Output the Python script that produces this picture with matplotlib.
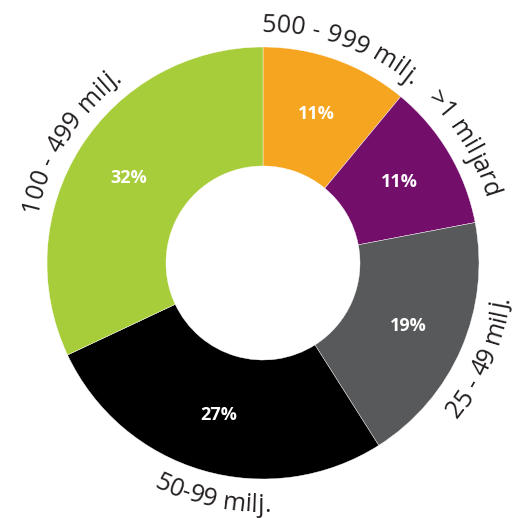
import numpy as np
import matplotlib
matplotlib.use("Agg")
import matplotlib.pyplot as plt
from matplotlib.font_manager import FontProperties

# Share of companies per revenue bracket, clockwise from 12 o'clock
labels = ["500 - 999 milj.", ">1 miljard", "25 - 49 milj.", "50-99 milj.", "100 - 499 milj."]
shares = [11, 11, 19, 27, 32]
colors = ["#F6A520", "#740E6B", "#58595B", "#000000", "#A8CD3A"]
label_shift = [0, 0, 0, 4, 0]  # degrees, nudges a label along the ring

W, H = 519, 518
cx, cy = 263, H - 263
r_out, r_in = 216, 97

fig = plt.figure(figsize=(W / 100, H / 100), dpi=100)
ax = fig.add_axes([0, 0, 1, 1])

wedges, _ = ax.pie(shares, colors=colors, startangle=90, counterclock=False,
                   center=(cx, cy), radius=r_out, frame=True,
                   wedgeprops=dict(width=r_out - r_in, edgecolor="white", linewidth=0.3))
ax.set_xlim(0, W)
ax.set_ylim(0, H)
ax.set_aspect("equal")
ax.axis("off")

pct_font = FontProperties(family="Open Sans", weight="bold", size=13)
lab_font = FontProperties(family="Open Sans", size=18)
renderer = fig.canvas.get_renderer()


def advance(ch, prop):
    # width of one glyph incl. side bearings (works for spaces too)
    w2 = renderer.get_text_width_height_descent("||", prop, ismath=False)[0]
    w3 = renderer.get_text_width_height_descent("|" + ch + "|", prop, ismath=False)[0]
    return w3 - w2


def curved_text(s, mid_deg, radius, upper):
    advs = [advance(c, lab_font) for c in s]
    total = sum(advs)
    mid = np.radians(mid_deg)
    pos = 0.0
    for c, a in zip(s, advs):
        off = (pos + a / 2 - total / 2) / radius
        th = mid - off if upper else mid + off
        x = cx + radius * np.cos(th)
        y = cy + radius * np.sin(th)
        rot = np.degrees(th) - 90 if upper else np.degrees(th) + 90
        ax.text(x, y, c, fontproperties=lab_font, color="#231F20",
                rotation=rot, rotation_mode="anchor", ha="center", va="baseline")
        pos += a


for w, lab, pct, shift in zip(wedges, labels, shares, label_shift):
    mid = (w.theta1 + w.theta2) / 2
    t = np.radians(mid)
    rm = (r_out + r_in) / 2 + 2
    ax.text(cx + rm * np.cos(t), cy + rm * np.sin(t), f"{pct}%",
            fontproperties=pct_font, color="white", ha="center", va="center")
    if np.sin(t) > -0.2:
        curved_text(lab, mid + shift, 231, True)
    else:
        curved_text(lab, mid + shift, 249, False)

fig.savefig("out.png", dpi=100)
